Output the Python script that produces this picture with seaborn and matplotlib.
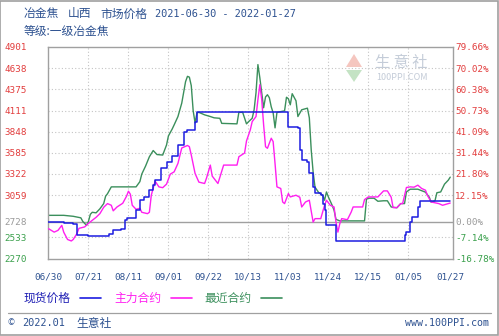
import matplotlib
matplotlib.use('Agg')
import matplotlib.pyplot as plt
from matplotlib.patches import Rectangle, Polygon
from matplotlib.lines import Line2D
import seaborn as sns
import pandas as pd

sns.set_theme(style='white')
plt.rcParams['font.family'] = ['Noto Sans CJK SC', 'DejaVu Sans']

# ---------------- data ----------------
spot_dates = ['2021-06-30', '2021-07-08', '2021-07-13', '2021-07-15', '2021-07-21', '2021-08-01',
              '2021-08-03', '2021-08-07', '2021-08-09', '2021-08-10', '2021-08-15', '2021-08-17',
              '2021-08-19', '2021-08-22', '2021-08-24', '2021-08-25', '2021-08-28', '2021-08-31',
              '2021-09-03', '2021-09-06', '2021-09-09', '2021-09-11', '2021-09-15', '2021-09-16',
              '2021-11-03', '2021-11-08', '2021-11-09', '2021-11-10', '2021-11-13', '2021-11-14',
              '2021-11-16', '2021-11-17', '2021-11-20', '2021-11-21', '2021-11-22', '2021-11-23',
              '2021-11-28', '2022-01-03', '2022-01-04', '2022-01-06', '2022-01-07', '2022-01-10',
              '2022-01-11', '2022-01-27']
spot_values = [2728, 2716, 2704, 2557, 2545, 2570,
               2620, 2641, 2745, 2779, 2870, 2995,
               3036, 3120, 3182, 3245, 3395, 3474,
               3545, 3682, 3845, 3870, 3974, 4095,
               3911, 3891, 3620, 3495, 3474, 3329,
               3161, 3079, 3057, 2954, 2870, 2683,
               2490, 2557, 2598, 2723, 2786, 2911,
               2986, 2986]

main_dates = ['2021-06-30', '2021-07-03', '2021-07-05', '2021-07-07', '2021-07-08', '2021-07-10',
              '2021-07-12', '2021-07-13', '2021-07-15', '2021-07-16', '2021-07-19', '2021-07-21',
              '2021-07-23', '2021-07-25', '2021-07-27', '2021-07-29', '2021-07-31', '2021-08-02',
              '2021-08-03', '2021-08-05', '2021-08-08', '2021-08-10', '2021-08-11', '2021-08-12',
              '2021-08-13', '2021-08-15', '2021-08-17', '2021-08-18', '2021-08-21', '2021-08-22',
              '2021-08-23', '2021-08-25', '2021-08-27', '2021-08-29', '2021-08-31', '2021-09-02',
              '2021-09-04', '2021-09-06', '2021-09-08', '2021-09-11', '2021-09-12', '2021-09-13',
              '2021-09-15', '2021-09-17', '2021-09-20', '2021-09-21', '2021-09-23', '2021-09-24',
              '2021-09-27', '2021-09-30', '2021-10-07', '2021-10-08', '2021-10-11', '2021-10-12',
              '2021-10-14', '2021-10-15', '2021-10-17', '2021-10-18', '2021-10-19', '2021-10-20',
              '2021-10-21', '2021-10-22', '2021-10-23', '2021-10-25', '2021-10-26', '2021-10-27',
              '2021-10-28', '2021-10-30', '2021-10-31', '2021-11-01', '2021-11-03', '2021-11-04',
              '2021-11-07', '2021-11-09', '2021-11-10', '2021-11-12', '2021-11-14', '2021-11-16',
              '2021-11-17', '2021-11-20', '2021-11-22', '2021-11-23', '2021-11-25', '2021-11-27',
              '2021-11-28', '2021-11-29', '2021-11-30', '2021-12-01', '2021-12-04', '2021-12-06',
              '2021-12-07', '2021-12-12', '2021-12-13', '2021-12-15', '2021-12-20', '2021-12-23',
              '2021-12-25', '2021-12-27', '2021-12-28', '2021-12-30', '2022-01-01', '2022-01-02',
              '2022-01-04', '2022-01-06', '2022-01-08', '2022-01-10', '2022-01-12', '2022-01-14',
              '2022-01-15', '2022-01-17', '2022-01-21', '2022-01-23', '2022-01-26', '2022-01-27']
main_values = [2641, 2598, 2620, 2682, 2598, 2507,
               2488, 2507, 2582, 2645, 2663, 2707,
               2745, 2782, 2828, 2907, 2953, 2932,
               2863, 2911, 2957, 3045, 3107, 3070,
               2932, 2882, 2895, 2845, 2828, 2845,
               3057, 3232, 3161, 3151, 3195, 3320,
               3348, 3453, 3645, 3676, 3661, 3557,
               3328, 3220, 3203, 3270, 3432, 3295,
               3203, 3432, 3432, 3536, 3582, 3732,
               3870, 3973, 4036, 4245, 4432, 4245,
               3932, 3661, 3641, 3766, 3724, 3450,
               3161, 3141, 2973, 2953, 3078, 3036,
               3057, 3032, 2911, 2973, 2995, 2723,
               2766, 2766, 2932, 2995, 2932, 2911,
               2723, 2598, 2703, 2766, 2753, 2848,
               2911, 2911, 3003, 3036, 3036, 3111,
               3111, 3032, 2903, 2903, 2953, 2953,
               3153, 3161, 3157, 3182, 3141, 3120,
               3057, 2973, 2953, 2932, 2953, 2960]

near_dates = ['2021-06-30', '2021-07-08', '2021-07-13', '2021-07-17', '2021-07-18', '2021-07-20',
              '2021-07-21', '2021-07-22', '2021-07-23', '2021-07-25', '2021-07-27', '2021-07-29',
              '2021-07-30', '2021-07-31', '2021-08-02', '2021-08-15', '2021-08-17', '2021-08-18',
              '2021-08-20', '2021-08-22', '2021-08-24', '2021-08-26', '2021-08-29', '2021-08-31',
              '2021-09-01', '2021-09-03', '2021-09-04', '2021-09-06', '2021-09-08', '2021-09-10',
              '2021-09-11', '2021-09-12', '2021-09-13', '2021-09-14', '2021-09-15', '2021-09-16',
              '2021-09-17', '2021-09-20', '2021-09-23', '2021-09-25', '2021-09-28', '2021-09-29',
              '2021-10-07', '2021-10-08', '2021-10-10', '2021-10-12', '2021-10-13', '2021-10-15',
              '2021-10-16', '2021-10-17', '2021-10-18', '2021-10-19', '2021-10-20', '2021-10-21',
              '2021-10-22', '2021-10-23', '2021-10-24', '2021-10-25', '2021-10-26', '2021-10-27',
              '2021-10-28', '2021-11-01', '2021-11-02', '2021-11-03', '2021-11-04', '2021-11-05',
              '2021-11-07', '2021-11-08', '2021-11-10', '2021-11-13', '2021-11-14', '2021-11-15',
              '2021-11-16', '2021-11-17', '2021-11-19', '2021-11-21', '2021-11-22', '2021-11-23',
              '2021-11-24', '2021-11-26', '2021-11-27', '2021-11-28', '2021-11-30', '2021-12-13',
              '2021-12-14', '2021-12-15', '2021-12-18', '2021-12-20', '2021-12-23', '2021-12-25',
              '2021-12-27', '2021-12-30', '2022-01-01', '2022-01-03', '2022-01-04', '2022-01-06',
              '2022-01-10', '2022-01-14', '2022-01-16', '2022-01-17', '2022-01-19', '2022-01-20',
              '2022-01-22', '2022-01-24', '2022-01-26', '2022-01-27']
near_values = [2807, 2807, 2795, 2776, 2732, 2682,
               2732, 2820, 2845, 2838, 2888, 2953,
               3045, 3076, 3161, 3161, 3226, 3320,
               3420, 3536, 3613, 3563, 3557, 3682,
               3795, 3882, 3932, 4036, 4203, 4470,
               4536, 4526, 4420, 4107, 3957, 4082,
               4088, 4057, 4036, 4020, 4014, 3951,
               3945, 4088, 4088, 3945, 3970, 4014,
               4120, 4332, 4682, 4520, 4332, 4145,
               4280, 4307, 4270, 4157, 4082, 3895,
               4088, 4107, 4276, 4257, 4182, 4320,
               4232, 4036, 4120, 4140, 4020, 3620,
               3345, 3157, 3088, 3057, 2995, 3098,
               3036, 2932, 2870, 2757, 2738, 2738,
               3007, 3020, 3020, 2982, 2988, 2988,
               2911, 2901, 2953, 2953, 3098, 3132,
               3132, 3095, 3032, 2970, 2988, 3088,
               3098, 3195, 3245, 3282]

y_ticks = [2270, 2533, 2728, 3059, 3322, 3585, 3848, 4111, 4375, 4638, 4901]
pct_labels = ['-16.78%', '-7.14%', '0.00%', '12.15%', '21.80%', '31.44%',
              '41.09%', '50.73%', '60.38%', '70.02%', '79.66%']
base_price = 2728
x_tick_dates = ['2021-06-30', '2021-07-21', '2021-08-11', '2021-09-01', '2021-09-22', '2021-10-13',
                '2021-11-03', '2021-11-24', '2021-12-15', '2022-01-05', '2022-01-27']
x_tick_labels = ['06/30', '07/21', '08/11', '09/01', '09/22', '10/13',
                 '11/03', '11/24', '12/15', '01/05', '01/27']
series_names = ['现货价格', '主力合约', '最近合约']

# ---------------- styling ----------------
C_SPOT = '#1c1ce0'
C_MAIN = '#ff1ff0'
C_NEAR = '#3b8f5c'
C_RED = '#e23d3d'
C_GRAY = '#9a9a9a'
C_GREEN = '#3aa04c'
C_NAVY = '#2d5190'
C_FRAME = '#a0a0a0'

W, H = 499, 336
fig = plt.figure(figsize=(W / 100, H / 100), dpi=100)
fig.patch.set_facecolor('white')
ax = fig.add_axes([48 / W, 1 - 258.5 / H, (452.5 - 48) / W, (258.5 - 47) / H])
ax.set_facecolor('white')

spot = pd.DataFrame({'date': pd.to_datetime(spot_dates), 'price': spot_values})
main = pd.DataFrame({'date': pd.to_datetime(main_dates), 'price': main_values})
near = pd.DataFrame({'date': pd.to_datetime(near_dates), 'price': near_values})

start = pd.Timestamp(x_tick_dates[0])
end = pd.Timestamp(x_tick_dates[-1])
ax.set_xlim(start - pd.Timedelta(hours=6), end + pd.Timedelta(days=1.2))
ax.set_ylim(y_ticks[0], y_ticks[-1])

# grid
xt = pd.to_datetime(x_tick_dates)
for d in xt[1:-1]:
    ax.axvline(d, color='#c4c4c4', lw=0.8, ls=(0, (1, 2)), zorder=0)
for v in y_ticks[1:-1]:
    if v == base_price:
        ax.axhline(v, color=C_FRAME, lw=1.0, zorder=0.5)
    else:
        ax.axhline(v, color='#c4c4c4', lw=0.8, ls=(0, (1, 2)), zorder=0)

sns.lineplot(data=near, x='date', y='price', ax=ax, color=C_NEAR, lw=1.0,
             estimator=None, sort=False, zorder=2)
sns.lineplot(data=main, x='date', y='price', ax=ax, color=C_MAIN, lw=1.0,
             estimator=None, sort=False, zorder=3)
sns.lineplot(data=spot, x='date', y='price', ax=ax, color=C_SPOT, lw=1.1,
             estimator=None, sort=False, drawstyle='steps-post', zorder=4)

ax.set_xlabel('')
ax.set_ylabel('')
for s in ax.spines.values():
    s.set_color(C_FRAME)
    s.set_linewidth(1.0)

mono = 'DejaVu Sans Mono'
ax.set_xticks(xt)
ax.set_xticklabels(x_tick_labels, fontsize=6.7, color=C_NAVY, family=mono)
ax.set_yticks(y_ticks)
ax.set_yticklabels([str(v) for v in y_ticks], fontsize=6.7, family=mono)
ax.tick_params(axis='x', length=0, pad=10)
ax.tick_params(axis='y', length=0, pad=15)

def level_color(v):
    if v > base_price:
        return C_RED
    if v == base_price:
        return C_GRAY
    return C_GREEN

for lab, v in zip(ax.get_yticklabels(), y_ticks):
    lab.set_color(level_color(v))

ax2 = ax.twinx()
ax2.set_ylim(ax.get_ylim())
ax2.set_yticks(y_ticks)
ax2.set_yticklabels(pct_labels, fontsize=6.7, family=mono)
ax2.tick_params(axis='y', length=0, pad=2)
for lab, v in zip(ax2.get_yticklabels(), y_ticks):
    lab.set_color(level_color(v))
for s in ax2.spines.values():
    s.set_visible(False)
ax2.grid(False)

def fx(px):
    return px / W

def fy(py):
    return 1 - py / H

# title
cjk = 'Noto Sans CJK SC'
fig.text(fx(24), fy(14), '冶金焦', fontsize=8.5, color=C_NAVY, family=cjk, va='center')
fig.text(fx(68), fy(14), '山西', fontsize=8.5, color=C_NAVY, family=cjk, va='center')
fig.text(fx(100), fy(14), '市场价格', fontsize=8.5, color=C_NAVY, family=cjk, va='center')
fig.text(fx(155), fy(14), '2021-06-30 - 2022-01-27', fontsize=7.4, color=C_NAVY,
         family=mono, va='center')
fig.text(fx(24), fy(32), '等级:一级冶金焦', fontsize=8.5, color=C_NAVY, family=cjk, va='center')

# watermark
fig.patches.append(Polygon([[fx(346), fy(67)], [fx(354), fy(54)], [fx(362), fy(67)]],
                           closed=True, transform=fig.transFigure, facecolor='#f3b8b0',
                           edgecolor='none', alpha=0.8))
fig.patches.append(Polygon([[fx(346), fy(70)], [fx(354), fy(82)], [fx(362), fy(70)]],
                           closed=True, transform=fig.transFigure, facecolor='#b6dcb6',
                           edgecolor='none', alpha=0.8))
fig.text(fx(375), fy(63), '生 意 社', fontsize=11, color='#c4ccd8', family=cjk, va='center')
fig.text(fx(376), fy(77), '100PPI.COM', fontsize=6.5, color='#c4ccd8', va='center')

# legend
legend_items = [(24, 80, C_SPOT, '#1e1eb4'), (114, 171, C_MAIN, C_MAIN), (204, 261, C_NEAR, C_NEAR)]
for name, (tx, lx, lc, tc) in zip(series_names, legend_items):
    fig.text(fx(tx), fy(298), name, fontsize=8.5, color=tc, family=cjk, va='center')
    fig.add_artist(Line2D([fx(lx), fx(lx + 21)], [fy(298), fy(298)], color=lc, lw=1.2,
                          transform=fig.transFigure))

# footer
fig.add_artist(Line2D([fx(8), fx(491)], [fy(313), fy(313)], color=C_FRAME, lw=0.9,
                      transform=fig.transFigure))
fig.text(fx(8), fy(323), '©', fontsize=6, color=C_NAVY, va='center')
fig.text(fx(22), fy(323), '2022.01', fontsize=7.4, color=C_NAVY, family=mono, va='center')
fig.text(fx(76), fy(323), '生意社', fontsize=8.5, color=C_NAVY, family=cjk, va='center')
fig.text(fx(489), fy(323), 'www.100PPI.com', fontsize=7.2, color=C_NAVY, family=mono,
         va='center', ha='right')

# outer frame
fig.patches.append(Rectangle((0.001, 0.002), 0.997, 0.996, transform=fig.transFigure,
                             fill=False, edgecolor=C_FRAME, lw=1.2))

fig.savefig('out.png', dpi=100)
